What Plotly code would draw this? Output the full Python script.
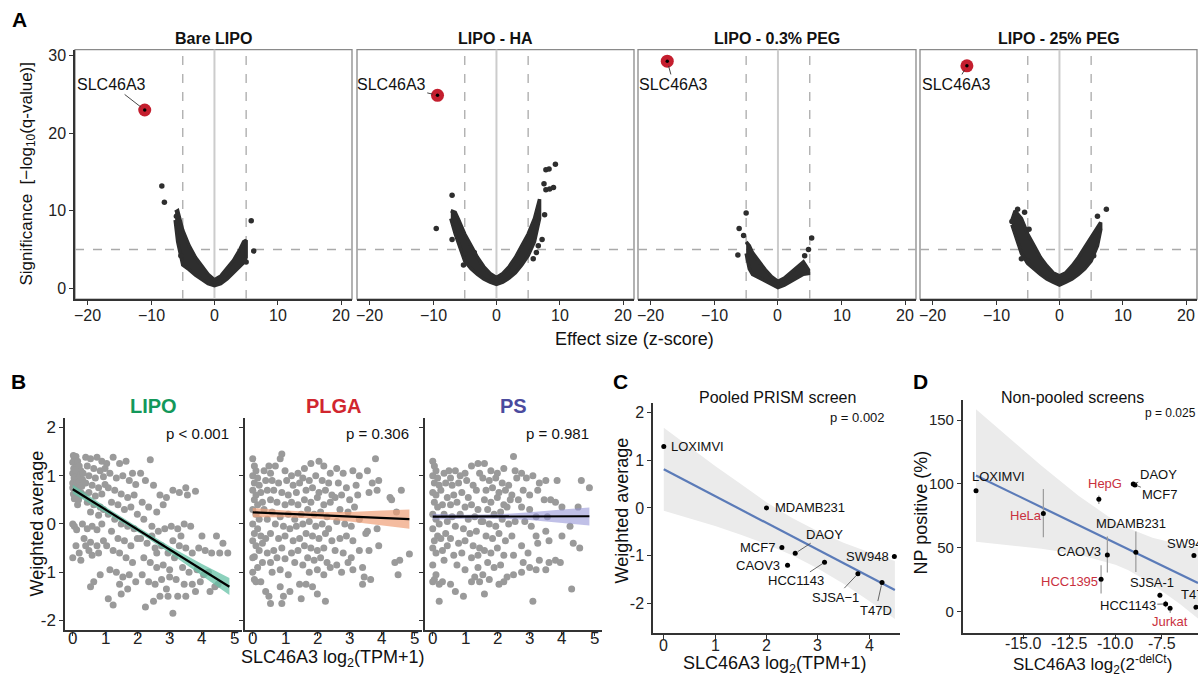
import plotly.graph_objects as go

W, H = 1198, 676
SANS = "Liberation Sans, Arial, Helvetica, sans-serif"
DARK = "#2e2e2e"
RED = "#c41e2e"
LRED = "#c9303e"

# ---------------- Panel A data (volcano plots) ----------------
a_titles = ["Bare LIPO", "LIPO - HA", "LIPO - 0.3% PEG", "LIPO - 25% PEG"]

a1_band_x = [-6.2, -5.8, -5.0, -4.0, -3.0, -2.0, -1.0, 0.0, 1.0, 2.0, 3.0, 4.0, 4.6, 5.0]
a1_band_hi = [9.8, 10.0, 7.5, 5.5, 4.0, 2.8, 1.8, 1.1, 1.6, 2.6, 3.6, 5.0, 6.0, 6.2]
a1_band_lo = [8.8, 6.0, 3.0, 2.4, 1.7, 1.1, 0.6, 0.35, 0.6, 1.2, 1.9, 2.8, 3.3, 4.0]
a1_out_x = [-8.3, -7.9, 5.8, 6.2, 5.0, -5.3, -6.0]
a1_out_y = [13.2, 11.1, 8.7, 4.8, 3.4, 4.2, 9.3]

a2_band_x = [-7.2, -6.5, -6.0, -5.0, -4.0, -3.0, -2.0, -1.0, 0.0, 1.0, 2.0, 3.0, 4.0, 5.0, 6.0, 6.8]
a2_band_hi = [10.0, 9.8, 8.9, 7.0, 5.5, 4.0, 2.8, 1.9, 1.4, 1.9, 2.8, 4.0, 5.5, 7.0, 9.0, 11.5]
a2_band_lo = [9.0, 7.0, 5.8, 3.5, 2.5, 1.8, 1.2, 0.8, 0.5, 0.8, 1.3, 2.0, 3.0, 4.2, 6.0, 9.0]
a2_out_x = [-7.0, -9.5, -7.0, 7.8, 8.3, 9.3, 7.5, 7.8, 8.4, 9.0, 7.6, 7.2, 6.6, 6.3, 5.8, -3.5, -5.0, -5.2]
a2_out_y = [12.0, 7.7, 6.3, 15.3, 15.4, 16.0, 13.5, 12.7, 12.8, 13.0, 9.5, 6.3, 5.5, 4.6, 3.8, 4.6, 4.5, 3.0]

a3_band_x = [-5.0, -4.5, -4.0, -3.0, -2.0, -1.0, 0.0, 1.0, 2.0, 3.0, 4.0, 4.8]
a3_band_hi = [6.0, 5.5, 4.6, 3.4, 2.4, 1.5, 0.9, 1.3, 2.0, 2.7, 3.4, 2.4]
a3_band_lo = [4.5, 2.5, 1.8, 1.3, 0.9, 0.5, 0.1, 0.4, 0.9, 1.3, 1.8, 1.9]
a3_out_x = [-5.0, -6.1, -5.4, -6.3, 5.3, 4.8, 4.2]
a3_out_y = [9.7, 7.7, 6.8, 4.3, 6.5, 5.0, 4.2]

a4_band_x = [-7.5, -7.0, -6.0, -5.0, -4.0, -3.0, -2.0, -1.0, 0.0, 1.0, 2.0, 3.0, 4.0, 5.0, 6.0, 6.5]
a4_band_hi = [8.8, 10.0, 9.0, 7.0, 5.5, 4.0, 2.9, 2.0, 1.6, 2.0, 2.9, 4.0, 5.3, 6.5, 7.8, 8.5]
a4_band_lo = [8.2, 7.0, 4.5, 3.2, 2.5, 1.8, 1.2, 0.8, 0.4, 0.8, 1.2, 1.8, 2.5, 3.5, 5.5, 7.5]
a4_out_x = [7.4, 6.0, -6.6, -7.5, -5.5, -4.8, -6.0, -5.0, 5.4, 6.3]
a4_out_y = [10.2, 9.3, 10.2, 8.6, 9.8, 7.6, 3.8, 3.5, 4.2, 7.6]

a_hit_x = [-11.0, -9.3, -17.4, -14.6]
a_hit_y = [23.0, 24.9, 29.3, 28.7]
a_lab_x = [-16.2, -16.6, -16.4, -16.3]
a_lab_y = [26.3, 26.3, 26.3, 26.3]
a_hit_name = "SLC46A3"
a_xticks = [-20, -10, 0, 10, 20]
a_xticktext = ["\u221220", "\u221210", "0", "10", "20"]
a_yticks = [0, 10, 20, 30]

# ---------------- Panel B data ----------------
b_titles = ["LIPO", "PLGA", "PS"]
b_title_colors = ["#13985a", "#d1262f", "#4b4b9e"]
b_pvals = ["p < 0.001", "p = 0.306", "p = 0.981"]

b_lipo_pts = [
    (0.02, 1.42), (0.05, 1.35), (0.1, 1.4), (0.0, 1.28), (0.08, 1.25), (0.15, 1.3), (0.03, 1.15), (0.12, 1.18),
    (0.2, 1.2), (0.0, 1.05), (0.07, 1.08), (0.18, 1.02), (0.25, 1.1), (0.04, 0.95), (0.14, 0.92), (0.22, 0.98),
    (0.0, 0.85), (0.1, 0.82), (0.2, 0.88), (0.06, 0.72), (0.16, 0.7), (0.02, 0.62), (0.12, 0.6), (0.25, 0.65),
    (0.05, 0.52), (0.18, 0.5), (0.3, 0.92), (0.32, 1.05), (0.28, 0.78), (0.35, 0.6), (0.0, 0.0), (0.05, -0.05),
    (0.12, -0.12), (0.0, -0.7), (0.2, -0.6), (0.25, -0.75), (0.1, -0.45), (0.08, 1.12), (0.0, 0.75), (0.15, 0.4),
    (0.4, 1.38), (0.55, 1.35), (0.75, 1.38), (0.9, 1.3), (0.45, 1.2), (0.65, 1.15), (0.85, 1.1), (1.0, 1.15),
    (0.5, 1.0), (0.7, 0.95), (0.95, 0.98), (0.4, 0.85), (0.6, 0.8), (0.8, 0.75), (1.0, 0.82), (0.5, 0.65),
    (0.7, 0.58), (0.9, 0.62), (0.45, 0.45), (0.65, 0.4), (0.85, 0.35), (0.55, 0.25), (0.8, 0.18), (0.95, 0.3),
    (0.3, 0.0), (0.45, -0.1), (0.6, -0.05), (0.75, -0.12), (0.9, 0.0), (0.35, -0.3), (0.55, -0.38), (0.75, -0.45),
    (0.95, -0.35), (0.6, -0.65), (0.8, -0.6), (0.55, -1.3), (0.65, -1.2), (0.85, -1.05), (0.5, -0.55), (0.4, -0.45),
    (1.05, 1.25), (1.25, 1.38), (1.45, 1.25), (1.65, 1.3), (1.85, 1.05), (1.15, 1.05), (1.35, 0.95), (1.55, 1.0),
    (1.75, 0.9), (1.95, 0.82), (1.1, 0.75), (1.3, 0.7), (1.5, 0.62), (1.7, 0.55), (1.9, 0.6), (1.2, 0.45),
    (1.4, 0.4), (1.6, 0.3), (1.8, 0.35), (2.0, 0.2), (1.1, 0.2), (1.3, 0.1), (1.5, 0.0), (1.7, -0.05),
    (1.9, -0.1), (1.2, -0.15), (1.4, -0.3), (1.6, -0.35), (1.8, -0.45), (2.0, -0.3), (1.05, -0.45), (1.25, -0.55),
    (1.45, -0.6), (1.65, -0.7), (1.85, -0.8), (1.15, -0.95), (1.35, -1.0), (1.55, -1.1), (1.75, -1.05), (1.95, -1.2),
    (1.1, -1.55), (1.25, -1.68), (1.5, -1.45), (1.7, -1.35), (1.45, -1.25),
    (2.1, 1.05), (2.4, 1.33), (2.25, 0.9), (2.5, 0.8), (2.7, 0.6), (2.9, 0.55), (2.15, 0.45), (2.35, 0.35),
    (2.6, 0.25), (2.8, 0.4), (2.2, 0.1), (2.45, -0.05), (2.65, -0.15), (2.85, -0.1), (2.1, -0.3), (2.3, -0.4),
    (2.55, -0.5), (2.75, -0.45), (2.95, -0.6), (2.2, -0.7), (2.4, -0.8), (2.6, -0.9), (2.8, -0.85), (3.0, -0.95),
    (2.15, -1.05), (2.35, -1.2), (2.55, -1.25), (2.75, -1.15), (2.9, -1.35), (2.25, -1.72), (2.5, -1.6), (2.7, -1.5),
    (2.95, -1.5), (2.45, -0.25), (2.6, -0.6),
    (3.1, 0.7), (3.3, 0.65), (3.5, 0.75), (3.55, 0.6), (3.8, 0.68), (3.05, -0.05), (3.25, -0.1), (3.45, 0.0),
    (3.65, -0.05), (3.1, -0.35), (3.3, -0.45), (3.5, -0.5), (3.7, -0.6), (3.9, -0.5), (3.15, -0.7), (3.4, -0.9),
    (3.6, -1.0), (3.85, -0.95), (3.2, -1.15), (3.45, -1.25), (3.7, -1.25), (3.95, -1.2), (3.1, -1.85), (3.25, -1.5),
    (3.5, -1.5), (3.8, -1.4), (3.0, -1.1), (3.35, -0.25),
    (4.0, -0.25), (4.1, -0.55), (4.3, -0.6), (4.45, -0.25), (4.55, -0.6), (4.65, -0.4), (4.8, -0.6), (4.2, -1.0),
    (4.4, -1.3), (4.5, -1.25), (4.25, -1.4), (4.05, -1.05),
]

b_plga_pts = [
    (0.0, 1.35), (0.05, 1.2), (0.1, 1.1), (0.0, 1.0), (0.15, 0.95), (0.05, 0.85), (0.2, 0.8), (0.0, 0.7),
    (0.1, 0.6), (0.25, 0.65), (0.05, 0.5), (0.15, 0.4), (0.3, 0.45), (0.0, 0.3), (0.1, 0.2), (0.2, 0.1),
    (0.0, 0.0), (0.15, -0.1), (0.05, -0.2), (0.25, -0.25), (0.0, -0.35), (0.1, -0.45), (0.3, -0.4), (0.0, -0.7),
    (0.05, -0.68), (0.2, -0.55), (0.0, -1.0), (0.1, -1.2), (0.05, -1.15), (0.25, -1.2), (0.15, -0.9), (0.35, 1.1),
    (0.4, 0.9), (0.45, 0.7), (0.35, 0.3), (0.45, 0.1), (0.4, -0.3), (0.45, -0.6), (0.4, -1.4), (0.3, -0.8),
    (0.5, 1.2),
    (0.55, 1.05), (0.7, 1.2), (0.9, 1.45), (0.85, 1.35), (1.0, 1.1), (1.2, 1.0), (1.4, 1.05), (0.6, 0.9),
    (0.8, 0.85), (1.05, 0.9), (1.25, 0.8), (1.45, 0.85), (0.65, 0.7), (0.9, 0.65), (1.1, 0.6), (1.35, 0.65),
    (0.55, 0.5), (0.75, 0.45), (1.0, 0.4), (1.2, 0.45), (1.4, 0.4), (0.6, 0.25), (0.85, 0.15), (1.1, 0.2),
    (1.3, 0.1), (1.5, 0.2), (0.7, 0.0), (0.95, -0.05), (1.15, -0.1), (1.35, -0.05), (0.55, -0.2), (0.8, -0.3),
    (1.0, -0.25), (1.25, -0.35), (1.45, -0.3), (0.65, -0.55), (0.9, -0.5), (1.2, -0.6), (1.4, -0.55), (0.75, -0.7),
    (1.0, -0.72), (1.3, -0.8), (0.55, -0.8), (0.6, -1.0), (0.85, -0.95), (1.1, -1.05), (0.5, -1.5), (0.55, -1.65),
    (0.85, -1.3), (0.9, -1.65), (0.95, -1.5), (1.15, -1.4), (1.45, -1.25), (1.5, -1.55),
    (1.6, 1.15), (1.8, 1.25), (2.05, 1.3), (2.2, 1.2), (2.4, 1.05), (1.55, 0.95), (1.75, 0.9), (1.95, 1.0),
    (2.15, 0.9), (2.35, 0.85), (1.65, 0.7), (1.85, 0.75), (2.05, 0.65), (2.25, 0.7), (2.45, 0.6), (1.6, 0.5),
    (1.8, 0.45), (2.0, 0.55), (2.2, 0.4), (2.4, 0.45), (1.7, 0.3), (1.9, 0.2), (2.1, 0.25), (2.3, 0.15),
    (1.55, 0.0), (1.75, 0.05), (1.95, -0.05), (2.15, 0.0), (2.35, -0.1), (1.65, -0.2), (1.85, -0.25), (2.05, -0.3),
    (2.25, -0.2), (2.45, -0.35), (1.6, -0.45), (1.8, -0.5), (2.0, -0.55), (2.2, -0.5), (1.7, -0.7), (1.9, -0.75),
    (2.1, -0.7), (2.3, -0.8), (1.55, -0.85), (1.75, -1.0), (2.0, -0.95), (2.2, -1.05), (2.4, -0.9), (1.65, -1.25),
    (2.0, -1.45), (2.25, -1.6), (1.85, -1.3),
    (2.6, 1.15), (2.8, 1.05), (3.1, 1.1), (3.3, 1.0), (2.65, 0.85), (2.9, 0.75), (3.2, 0.8), (2.55, 0.55),
    (2.75, 0.6), (3.0, 0.5), (3.25, 0.6), (2.7, 0.3), (2.95, 0.25), (3.15, 0.35), (2.6, 0.05), (2.85, 0.0),
    (3.05, -0.05), (3.3, 0.1), (2.7, -0.3), (2.9, -0.25), (3.1, -0.35), (2.55, -0.55), (2.8, -0.6), (3.05, -0.7),
    (3.3, -0.55), (2.6, -0.85), (2.95, -0.8), (3.4, -0.9), (2.75, -1.0), (3.45, -1.1), (3.4, -1.25), (3.1, -0.95),
    (3.55, 1.1), (3.8, 1.35), (3.7, 0.85), (3.9, 0.9), (3.6, 0.65), (3.85, 0.7), (4.25, 0.55), (4.3, 0.5),
    (4.6, 0.7), (3.55, -0.15), (3.85, -0.1), (4.45, 0.25), (3.6, -0.55), (3.9, -0.45), (4.85, -0.62), (4.4, -0.8),
    (4.55, -0.75), (4.5, -1.05), (3.5, -0.2), (3.65, -1.15),
]

b_ps_pts = [
    (0.0, 1.3), (0.05, 1.2), (0.1, 1.1), (0.0, 1.0), (0.15, 0.95), (0.05, 0.85), (0.2, 0.8), (0.0, 0.65),
    (0.1, 0.6), (0.25, 0.7), (0.05, 0.45), (0.15, 0.35), (0.3, 0.4), (0.0, 0.2), (0.1, 0.1), (0.2, 0.0),
    (0.0, -0.1), (0.15, -0.25), (0.05, -0.35), (0.25, -0.3), (0.0, -0.5), (0.1, -0.6), (0.3, -0.55), (0.0, -0.85),
    (0.05, -1.15), (0.2, -1.25), (0.0, -1.2), (0.1, -1.05), (0.2, -1.6), (0.35, 1.05), (0.4, 0.85), (0.45, 0.55),
    (0.35, 0.2), (0.45, 0.05), (0.4, -0.2), (0.45, -0.45), (0.3, -1.2), (0.35, -0.75), (0.5, 1.1),
    (0.55, 0.95), (0.7, 1.1), (0.85, 1.0), (1.0, 1.05), (1.2, 1.2), (1.4, 1.25), (0.6, 0.8), (0.8, 0.85),
    (1.05, 0.9), (1.25, 0.8), (1.45, 1.05), (0.65, 0.6), (0.9, 0.65), (1.1, 0.55), (1.35, 0.7), (0.55, 0.4),
    (0.75, 0.45), (1.0, 0.35), (1.2, 0.4), (1.4, 0.3), (0.6, 0.15), (0.85, 0.2), (1.1, 0.1), (1.3, 0.15),
    (1.5, 0.05), (0.7, -0.05), (0.95, -0.1), (1.15, -0.2), (1.35, -0.15), (0.55, -0.3), (0.8, -0.4), (1.0, -0.35),
    (1.25, -0.45), (1.45, -0.5), (0.65, -0.65), (0.9, -0.6), (1.2, -0.7), (1.4, -0.65), (0.75, -0.85), (1.0, -0.95),
    (1.3, -1.1), (0.55, -1.25), (0.7, -1.4), (0.95, -1.5), (1.2, -1.2), (1.45, -1.2), (1.4, -0.9),
    (1.6, 1.25), (1.8, 1.1), (2.0, 1.05), (2.2, 1.15), (2.5, 1.4), (2.55, 1.1), (1.55, 0.95), (1.75, 0.9),
    (1.95, 0.95), (2.15, 0.85), (2.35, 0.8), (2.6, 0.95), (1.65, 0.7), (1.85, 0.75), (2.05, 0.65), (2.25, 0.7),
    (2.45, 0.6), (1.6, 0.5), (1.8, 0.45), (2.0, 0.55), (2.2, 0.4), (2.4, 0.5), (2.65, 0.5), (1.7, 0.3),
    (1.9, 0.2), (2.1, 0.25), (2.3, 0.35), (1.55, 0.05), (1.75, 0.0), (1.95, -0.05), (2.15, 0.1), (2.35, 0.0),
    (2.55, 0.05), (1.65, -0.25), (1.85, -0.3), (2.05, -0.2), (2.25, -0.35), (2.45, -0.25), (1.6, -0.55), (1.8, -0.6),
    (2.0, -0.5), (2.2, -0.65), (2.5, -0.65), (1.7, -0.8), (1.9, -0.9), (2.1, -0.85), (2.3, -1.1), (1.55, -1.05),
    (1.75, -1.15), (2.05, -1.25), (1.6, -1.45), (2.2, -1.2),
    (2.75, 1.05), (2.9, 0.95), (3.1, 1.0), (3.3, 0.85), (3.5, 0.9), (3.85, 0.9), (2.8, 0.7), (3.0, 0.6),
    (3.25, 0.7), (3.45, 0.5), (3.65, 0.5), (3.8, 0.45), (2.75, 0.35), (3.0, 0.3), (3.2, 0.15), (3.55, 0.15),
    (4.0, 0.35), (4.5, 0.35), (4.6, 0.9), (4.85, 0.75), (2.85, 0.05), (3.05, -0.05), (3.2, -0.25), (3.5, -0.15),
    (2.75, -0.45), (2.95, -0.6), (3.25, -0.4), (3.6, -0.35), (4.0, -0.25), (4.25, -0.05), (4.35, -0.4), (4.55, -0.5),
    (2.8, -0.8), (3.0, -0.9), (3.3, -0.75), (3.6, -0.8), (3.8, -0.75), (3.95, -0.8), (2.75, -1.0), (3.2, -0.95),
    (3.5, -0.95), (4.3, -1.35), (3.1, -1.6), (2.5, -1.05),
]

b_fit_x = [0.0, 1.0, 2.0, 3.0, 4.0, 4.85]
b_lipo_fit = [0.72, 0.30, -0.11, -0.53, -0.95, -1.30]
b_lipo_hi = [0.81, 0.36, -0.06, -0.46, -0.83, -1.12]
b_lipo_lo = [0.63, 0.24, -0.16, -0.60, -1.07, -1.47]
b_plga_fit = [0.24, 0.21, 0.18, 0.15, 0.13, 0.10]
b_plga_hi = [0.33, 0.28, 0.25, 0.25, 0.28, 0.30]
b_plga_lo = [0.14, 0.14, 0.11, 0.05, -0.03, -0.10]
b_ps_fit = [0.15, 0.15, 0.16, 0.16, 0.16, 0.16]
b_ps_hi = [0.21, 0.19, 0.20, 0.24, 0.30, 0.34]
b_ps_lo = [0.09, 0.11, 0.11, 0.08, 0.02, -0.03]
b_band_colors = ["rgba(102,194,165,0.75)", "rgba(240,160,120,0.7)", "rgba(150,150,215,0.6)"]
b_xticks = [0, 1, 2, 3, 4, 5]
b_yticks = [-2, -1, 0, 1, 2]
b_yticktext = ["-2", "-1", "0", "1", "2"]

# ---------------- Panel C data ----------------
c_names = ["LOXIMVI", "MDAMB231", "MCF7", "DAOY", "CAOV3", "HCC1143", "SJSA\u22121", "T47D", "SW948"]
c_x = [0.0, 2.0, 2.30, 2.56, 2.41, 3.13, 3.78, 4.25, 4.49]
c_y = [1.29, 0.0, -0.83, -0.95, -1.20, -1.14, -1.38, -1.56, -1.02]
c_lab_x = [0.11, 2.12, 2.21, 3.13, 2.30, 2.58, 3.35, 4.13, 4.42]
c_lab_y = [1.29, 0.0, -0.83, -0.55, -1.20, -1.53, -1.87, -2.14, -1.02]
c_lab_anchor = ["left", "left", "right", "center", "right", "center", "center", "center", "right"]
c_lab_line = [False, False, False, True, False, True, True, True, False]
c_fit_x = [0.0, 0.5, 1.0, 1.5, 2.0, 2.5, 3.0, 3.5, 4.0, 4.5]
c_fit_y = [0.81, 0.53, 0.25, -0.03, -0.32, -0.60, -0.88, -1.16, -1.44, -1.72]
c_fit_hi = [1.68, 1.28, 0.88, 0.50, 0.12, -0.21, -0.49, -0.73, -0.93, -1.11]
c_fit_lo = [-0.06, -0.22, -0.38, -0.56, -0.76, -0.99, -1.27, -1.59, -1.95, -2.33]
c_xticks = [0, 1, 2, 3, 4]
c_yticks = [-2, -1, 0, 1, 2]
c_yticktext = ["-2", "-1", "0", "1", "2"]

# ---------------- Panel D data ----------------
d_names = ["LOXIMVI", "HeLa", "HepG", "DAOY", "MCF7", "MDAMB231", "CAOV3", "HCC1395",
           "SJSA-1", "HCC1143", "Jurkat", "SW948", "T47D"]
d_x = [-17.54, -13.9, -10.9, -9.04, -8.95, -8.9, -10.44, -10.78, -7.6, -7.29, -7.05, -5.76, -5.65]
d_y = [94.8, 77.0, 88.0, 100.0, 99.3, 46.7, 44.4, 25.5, 13.0, 6.2, 2.9, 44.0, 3.7]
d_err_hi = [0, 19.0, 3.0, 0.5, 0.5, 16.2, 14.6, 10.9, 2.0, 2.5, 0, 0, 0]
d_err_lo = [0, 18.6, 3.6, 0.5, 0.5, 15.5, 13.7, 11.2, 2.0, 2.5, 0, 0, 0]
d_red = [False, True, True, False, False, False, False, True, False, False, True, False, False]
d_lab_text = ["LOXIMVI", "HeLa", "HepG", "DAOY", "MCF7", "MDAMB231", "CAOV3", "HCC1395",
              "SJSA-1", "HCC1143", "Jurkat", "SW948", "T47D"]
d_lab_x = [-16.3, -14.85, -10.57, -7.69, -7.6, -9.15, -12.0, -12.48, -8.04, -9.33, -7.03, -7.32, -6.55]
d_lab_y = [105.7, 75.3, 100.5, 107.2, 91.7, 68.8, 47.5, 23.9, 22.6, 5.2, -7.8, 53.7, 13.5]
d_lab_anchor = ["center", "center", "center", "center", "center", "center", "center", "center",
                "center", "center", "center", "left", "left"]
d_lab_line = [False, False, False, True, True, False, False, False, False, True, True, False, False]
d_fit_x = [-17.54, -16.0, -14.0, -12.0, -10.0, -9.3, -8.0, -6.5, -5.54]
d_fit_y = [106.6, 95.8, 81.8, 67.8, 53.8, 48.9, 39.8, 29.3, 22.6]
d_fit_hi = [158.4, 139.0, 114.3, 90.8, 70.7, 65.3, 58.0, 52.7, 50.4]
d_fit_lo = [54.8, 52.6, 49.3, 44.8, 36.9, 32.5, 21.6, 5.9, -5.2]
d_xticks = [-15.0, -12.5, -10.0, -7.5]
d_xticktext = ["-15.0", "-12.5", "-10.0", "-7.5"]
d_yticks = [0, 50, 100, 150]


def px(x):
    return x / W


def py(y):
    return 1 - y / H


fig = go.Figure()
layout = dict(width=W, height=H, margin=dict(l=0, r=0, t=0, b=0), paper_bgcolor="white",
              plot_bgcolor="white", showlegend=False)
shapes = []
annotations = []


def paper_text(text, x, y, size, color="#111", angle=0, xanchor="center"):
    annotations.append(dict(text=text, x=px(x), y=py(y), xref="paper", yref="paper", xanchor=xanchor,
                            yanchor="middle", textangle=angle, showarrow=False,
                            font=dict(family=SANS, size=size, color=color)))


def xtick_labels(xr, vals, texts, ypix, size):
    for v, t in zip(vals, texts):
        annotations.append(dict(text=t, x=v, y=py(ypix), xref=xr, yref="paper", xanchor="center",
                                yanchor="middle", showarrow=False,
                                font=dict(family=SANS, size=size, color="#222")))


def axname(n):
    return ("x" if n == 1 else "x%d" % n), ("y" if n == 1 else "y%d" % n)


def lay(n):
    return ("xaxis" if n == 1 else "xaxis%d" % n), ("yaxis" if n == 1 else "yaxis%d" % n)


def base_x(domain, yr, rng, tickvals):
    return dict(domain=domain, anchor=yr, range=rng, tickvals=tickvals, ticks="outside", ticklen=4,
                tickcolor="#333", showticklabels=False, showline=True, linecolor="#333", linewidth=1.5,
                showgrid=False, zeroline=False)


# ---------------- Panel A ----------------
a_bands = [(a1_band_x, a1_band_hi, a1_band_lo), (a2_band_x, a2_band_hi, a2_band_lo),
           (a3_band_x, a3_band_hi, a3_band_lo), (a4_band_x, a4_band_hi, a4_band_lo)]
a_outs = [(a1_out_x, a1_out_y), (a2_out_x, a2_out_y), (a3_out_x, a3_out_y), (a4_out_x, a4_out_y)]
a_left = [75, 357, 638, 920]
a_right = [352, 634, 916, 1197]
a_top, a_bot = 47.7, 298

for i in range(4):
    n = i + 1
    xr, yr = axname(n)
    xl, yl = lay(n)
    bx, hi, lo = a_bands[i]
    fig.add_trace(go.Scatter(x=bx + bx[::-1], y=hi + lo[::-1], mode="lines", fill="toself",
                             fillcolor=DARK, line=dict(color=DARK, width=3.5), xaxis=xr, yaxis=yr,
                             hoverinfo="skip"))
    ox, oy = a_outs[i]
    fig.add_trace(go.Scatter(x=ox, y=oy, mode="markers", marker=dict(color=DARK, size=5.5),
                             xaxis=xr, yaxis=yr))
    fig.add_trace(go.Scatter(x=[a_hit_x[i]], y=[a_hit_y[i]], mode="markers",
                             marker=dict(color=RED, size=13), xaxis=xr, yaxis=yr))
    fig.add_trace(go.Scatter(x=[a_hit_x[i]], y=[a_hit_y[i]], mode="markers",
                             marker=dict(color="black", size=3.5), xaxis=xr, yaxis=yr))
    layout[xl] = base_x([px(a_left[i]), px(a_right[i])], yr, [-22, 21.7], a_xticks)
    xtick_labels(xr, a_xticks, a_xticktext, 314, 16)
    layout[yl] = dict(domain=[py(a_bot), py(a_top)], anchor=xr, range=[-1.4, 30.8],
                      tickvals=a_yticks, ticks="outside" if i == 0 else "", ticklen=4, tickcolor="#333",
                      showticklabels=(i == 0), showline=(i == 0), linecolor="#333", linewidth=1.5,
                      showgrid=False, zeroline=False, tickfont=dict(family=SANS, size=16, color="#222"))
    shapes.append(dict(type="rect", xref=xr + " domain", yref=yr + " domain", x0=0, x1=1, y0=0, y1=1,
                       line=dict(color="#8a8a8a", width=1.3), layer="below"))
    shapes.append(dict(type="line", xref=xr + " domain", yref=yr, x0=0, x1=1, y0=5, y1=5,
                       line=dict(color="#aaaaaa", width=1.3, dash="dash"), layer="below"))
    for vx in (-5, 5):
        shapes.append(dict(type="line", xref=xr, yref=yr + " domain", x0=vx, x1=vx, y0=0, y1=1,
                           line=dict(color="#aaaaaa", width=1.3, dash="dash"), layer="below"))
    shapes.append(dict(type="line", xref=xr, yref=yr + " domain", x0=0, x1=0, y0=0, y1=1,
                       line=dict(color="#cccccc", width=2), layer="below"))
    paper_text("<b>%s</b>" % a_titles[i], (a_left[i] + a_right[i]) / 2, 37, 16)
    annotations.append(dict(text=a_hit_name, x=a_hit_x[i], y=a_hit_y[i], xref=xr, yref=yr,
                            ax=a_lab_x[i], ay=a_lab_y[i], axref=xr, ayref=yr, showarrow=True,
                            arrowhead=0, arrowwidth=0.9, arrowcolor="#333", standoff=5,
                            font=dict(family=SANS, size=16, color="#111")))

paper_text("<b>A</b>", 10, 18, 21, color="black", xanchor="left")
paper_text("Significance  [\u2212log<sub>10</sub>(q-value)]", 28, 172, 17, angle=-90)
paper_text("Effect size (z-score)", 634, 338, 18)

# ---------------- Panel B ----------------
b_pts = [b_lipo_pts, b_plga_pts, b_ps_pts]
b_fits = [(b_lipo_fit, b_lipo_hi, b_lipo_lo), (b_plga_fit, b_plga_hi, b_plga_lo), (b_ps_fit, b_ps_hi, b_ps_lo)]
b_left = [65, 245, 425]
b_right = [242, 422, 602]
b_top, b_bot = 417, 630
for i in range(3):
    n = 5 + i
    xr, yr = axname(n)
    xl, yl = lay(n)
    pts = b_pts[i]
    fig.add_trace(go.Scatter(x=[p[0] for p in pts], y=[p[1] for p in pts], mode="markers",
                             marker=dict(color="#9a9a9a", size=7), xaxis=xr, yaxis=yr))
    fit, hi, lo = b_fits[i]
    fig.add_trace(go.Scatter(x=b_fit_x + b_fit_x[::-1], y=hi + lo[::-1], mode="lines", fill="toself",
                             fillcolor=b_band_colors[i], line=dict(width=0), xaxis=xr, yaxis=yr,
                             hoverinfo="skip"))
    fig.add_trace(go.Scatter(x=b_fit_x, y=fit, mode="lines", line=dict(color="black", width=2.2),
                             xaxis=xr, yaxis=yr))
    layout[xl] = base_x([px(b_left[i]), px(b_right[i])], yr, [-0.24, 5.24], b_xticks)
    xtick_labels(xr, b_xticks, [str(v) for v in b_xticks], 638, 17)
    layout[yl] = dict(domain=[py(b_bot), py(b_top)], anchor=xr, range=[-2.2, 2.2], tickvals=b_yticks,
                      ticktext=b_yticktext, ticks="outside", ticklen=4, tickcolor="#333",
                      showticklabels=(i == 0), showline=True, linecolor="#333", linewidth=1.5,
                      showgrid=False, zeroline=False, tickfont=dict(family=SANS, size=17, color="#222"))
    paper_text("<b>%s</b>" % b_titles[i], (b_left[i] + b_right[i]) / 2, 405, 20, color=b_title_colors[i])
    annotations.append(dict(text=b_pvals[i], x=3.85, y=1.88, xref=xr, yref=yr, showarrow=False,
                            yanchor="middle", font=dict(family=SANS, size=15, color="#111")))

paper_text("<b>B</b>", 9, 381, 21, color="black", xanchor="left")
paper_text("Weighted average", 37, 523, 18, angle=-90)
paper_text("SLC46A3 log<sub>2</sub>(TPM+1)", 333, 658, 18)

# ---------------- Panel C ----------------
xr, yr = axname(8)
xl, yl = lay(8)
fig.add_trace(go.Scatter(x=c_fit_x + c_fit_x[::-1], y=c_fit_hi + c_fit_lo[::-1], mode="lines", fill="toself",
                         fillcolor="#ebebeb", line=dict(width=0), xaxis=xr, yaxis=yr, hoverinfo="skip"))
fig.add_trace(go.Scatter(x=c_fit_x, y=c_fit_y, mode="lines", line=dict(color="#5b7bb8", width=2.2),
                         xaxis=xr, yaxis=yr))
fig.add_trace(go.Scatter(x=c_x, y=c_y, mode="markers", marker=dict(color="black", size=5),
                         xaxis=xr, yaxis=yr, text=c_names))
layout[xl] = base_x([px(653), px(900)], yr, [-0.21, 4.6], c_xticks)
xtick_labels(xr, c_xticks, [str(v) for v in c_xticks], 645, 16)
layout[yl] = dict(domain=[py(633.3), py(401.7)], anchor=xr, range=[-2.63, 2.21], tickvals=c_yticks,
                  ticktext=c_yticktext, ticks="outside", ticklen=4, tickcolor="#333",
                  showline=True, linecolor="#333", linewidth=1.5, showgrid=False, zeroline=False,
                  tickfont=dict(family=SANS, size=16, color="#222"))
for i, name in enumerate(c_names):
    if c_lab_line[i]:
        annotations.append(dict(text=name, x=c_x[i], y=c_y[i], xref=xr, yref=yr, ax=c_lab_x[i],
                                ay=c_lab_y[i], axref=xr, ayref=yr, showarrow=True, arrowhead=0,
                                arrowwidth=0.8, arrowcolor="#444", standoff=3,
                                font=dict(family=SANS, size=13, color="#111")))
    else:
        annotations.append(dict(text=name, x=c_lab_x[i], y=c_lab_y[i], xref=xr, yref=yr,
                                xanchor=c_lab_anchor[i], yanchor="middle", showarrow=False,
                                font=dict(family=SANS, size=13, color="#111")))
annotations.append(dict(text="p = 0.002", x=3.77, y=1.89, xref=xr, yref=yr, showarrow=False,
                        yanchor="middle", font=dict(family=SANS, size=13, color="#111")))
paper_text("Pooled PRISM screen", 777, 397, 16)
paper_text("<b>C</b>", 611, 381, 21, color="black", xanchor="left")
paper_text("Weighted average", 622, 510, 18, angle=-90)
paper_text("SLC46A3 log<sub>2</sub>(TPM+1)", 775, 664, 18)

# ---------------- Panel D ----------------
xr, yr = axname(9)
xl, yl = lay(9)
fig.add_trace(go.Scatter(x=d_fit_x + d_fit_x[::-1], y=d_fit_hi + d_fit_lo[::-1], mode="lines", fill="toself",
                         fillcolor="#ebebeb", line=dict(width=0), xaxis=xr, yaxis=yr, hoverinfo="skip"))
fig.add_trace(go.Scatter(x=d_fit_x, y=d_fit_y, mode="lines", line=dict(color="#5b7bb8", width=2.2),
                         xaxis=xr, yaxis=yr))
fig.add_trace(go.Scatter(x=d_x, y=d_y, mode="markers", marker=dict(color="black", size=5),
                         error_y=dict(type="data", symmetric=False, array=d_err_hi, arrayminus=d_err_lo,
                                      color="#9a9a9a", thickness=1.2, width=0),
                         xaxis=xr, yaxis=yr, text=d_names))
layout[xl] = base_x([px(962.7), 1.0], yr, [-18.26, -5.54], d_xticks)
xtick_labels(xr, d_xticks, d_xticktext, 643, 16)
layout[yl] = dict(domain=[py(632.7), py(399.3)], anchor=xr, range=[-16.4, 165.6], tickvals=d_yticks,
                  ticks="outside", ticklen=4, tickcolor="#333",
                  showline=True, linecolor="#333", linewidth=1.5, showgrid=False, zeroline=False,
                  tickfont=dict(family=SANS, size=15, color="#222"))
for i, name in enumerate(d_lab_text):
    col = LRED if d_red[i] else "#111"
    if d_lab_line[i]:
        annotations.append(dict(text=name, x=d_x[i], y=d_y[i], xref=xr, yref=yr, ax=d_lab_x[i],
                                ay=d_lab_y[i], axref=xr, ayref=yr, showarrow=True, arrowhead=0,
                                arrowwidth=0.8, arrowcolor="#444", standoff=2,
                                font=dict(family=SANS, size=13, color=col)))
    else:
        annotations.append(dict(text=name, x=d_lab_x[i], y=d_lab_y[i], xref=xr, yref=yr,
                                xanchor=d_lab_anchor[i], yanchor="middle", showarrow=False,
                                font=dict(family=SANS, size=13, color=col)))
annotations.append(dict(text="p = 0.025", x=-7.05, y=155.8, xref=xr, yref=yr, showarrow=False,
                        yanchor="middle", font=dict(family=SANS, size=12, color="#111")))
paper_text("Non-pooled screens", 1072, 397, 16)
paper_text("<b>D</b>", 911, 381, 21, color="black", xanchor="left")
paper_text("NP positive (%)", 921, 512, 18, angle=-90)
paper_text("SLC46A3 log<sub>2</sub>(2<sup>-delCt</sup>)", 1092, 664, 17)

layout["shapes"] = shapes
layout["annotations"] = annotations
fig.update_layout(**layout)
fig.update_traces(showlegend=False)
fig.write_html("out.html")
